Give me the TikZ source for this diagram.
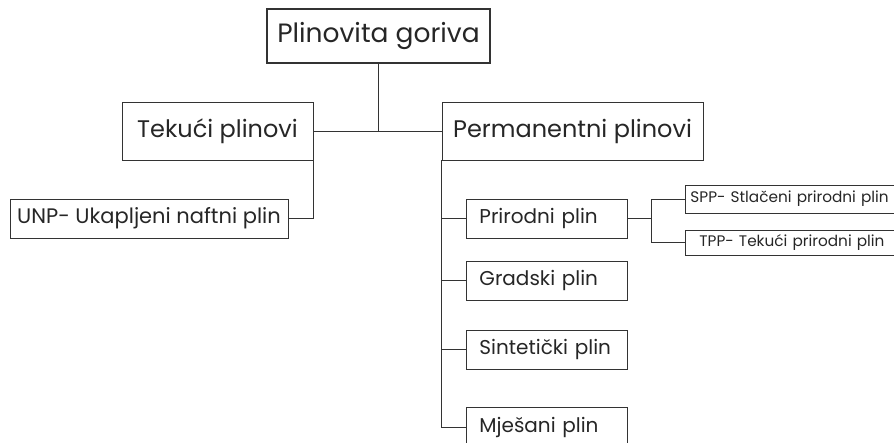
\documentclass[tikz,border=0pt]{standalone}
\usepackage{fontspec}
\setmainfont{Poppins}
\usepackage{tikz}
\usetikzlibrary{positioning,calc}

\begin{document}
\begin{tikzpicture}[
    x=1pt, y=-1pt,
    every node/.style={text=black!85, inner sep=0pt},
    box/.style={rectangle, draw=black!80, line width=0.9pt, font=\fontsize{21}{24}\selectfont},
    rootbox/.style={box, line width=1.8pt, minimum width=223pt, minimum height=54pt, font=\fontsize{26.5}{30}\selectfont},
    groupbox/.style={box, minimum height=58pt, font=\fontsize{24}{28}\selectfont},
    leafbox/.style={box, anchor=west, minimum height=39pt, text width=135pt, inner xsep=13pt, align=left, font=\fontsize{20}{23}\selectfont},
    subbox/.style={box, anchor=west, text width=210pt, align=left, font=\fontsize{15.3}{18}\selectfont},
    link/.style={draw=black!80, line width=0.9pt},
]
    \clip (0,0) rectangle (894,443);
    \useasboundingbox (0,0) rectangle (894,443);

    % Layer 0: root
    \node[rootbox] (root) at (378.5,36) {Plinovita goriva};

    % Layer 1: the two groups
    \node[groupbox, minimum width=191pt] (liquid) at (217.5,131) {Tekući plinovi};
    \node[groupbox, minimum width=261pt] (perm) at (572.5,131) {Permanentni plinovi};

    % Layer 2: kinds of gas
    \node[box, minimum width=278pt, minimum height=39pt] (lpg) at (149,218.5) {UNP- Ukapljeni naftni plin};
    \node[leafbox] (natural) at (466,218.5) {Prirodni plin};
    \node[leafbox] (town) at (466,280.5) {Gradski plin};
    \node[leafbox] (synth) at (466,349.5) {Sintetički plin};
    \node[leafbox] (mixed) at (466,427) {Mješani plin};

    % Layer 3: natural gas forms
    \coordinate (fork) at (651,218.5);
    \node[subbox, minimum height=28pt, inner xsep=5pt] (cng) at (685,199) {SPP- Stlačeni prirodni plin};
    \node[subbox, minimum height=25pt, inner xsep=14pt] (lng) at (685,242.5) {TPP- Tekući prirodni plin};

    % Edges
    \draw[link] (root) -- (root |- liquid.east);
    \draw[link] (liquid) -- (perm);
    \draw[link] (liquid.south east) |- (lpg);
    \draw[link] (perm.south west) |- (mixed.west);
    \draw[link] (natural.west -| perm.south west) -- (natural);
    \draw[link] (town.west -| perm.south west) -- (town);
    \draw[link] (synth.west -| perm.south west) -- (synth);
    \draw[link] (natural) -- (fork);
    \draw[link] (fork) |- (cng);
    \draw[link] (fork) |- (lng);
\end{tikzpicture}
\end{document}
